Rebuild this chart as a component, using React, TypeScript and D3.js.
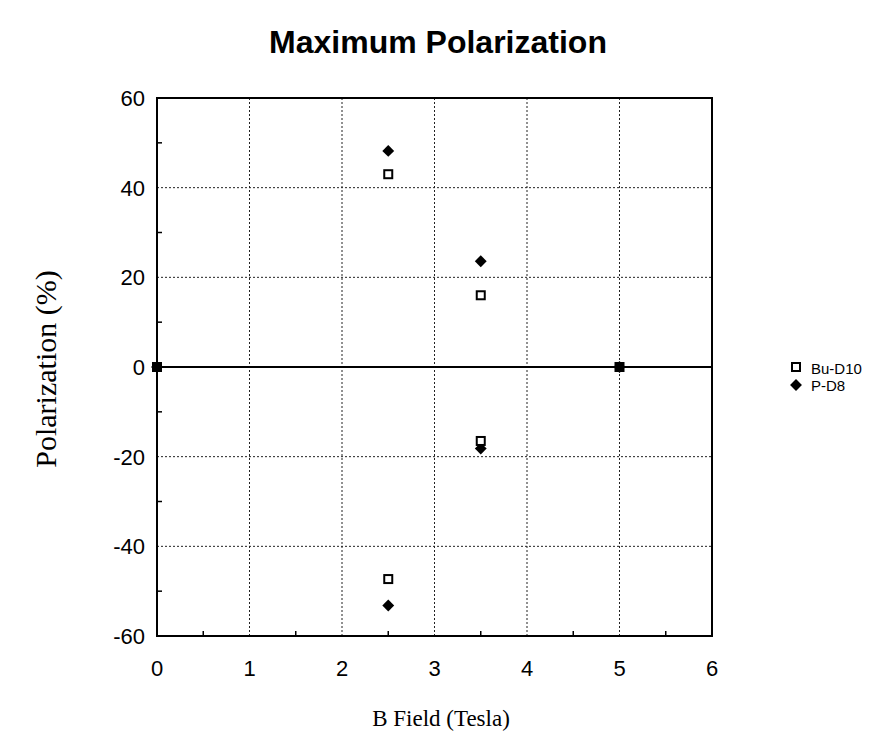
import React from "react";
import * as d3 from "d3";

// B field (Tesla) and maximum polarization (%)
const buField = [0, 2.5, 3.5, 3.5, 2.5, 5];
const buPol = [0, 43, 16, -16.5, -47.3, 0];
const pField = [0, 2.5, 3.5, 3.5, 2.5, 5];
const pPol = [0, 48.2, 23.6, -18.2, -53.2, 0];
const xTicks = [0, 1, 2, 3, 4, 5, 6];
const yTicks = [-60, -40, -20, 0, 20, 40, 60];

const W = 886;
const H = 749;
const margin = { left: 157, right: 174, top: 98, bottom: 113 };

export default function App() {
  const x = d3.scaleLinear().domain([0, 6]).range([margin.left, W - margin.right]);
  const y = d3.scaleLinear().domain([-60, 60]).range([H - margin.bottom, margin.top]);
  const minorX = d3.range(0.5, 6, 1);
  const minorY = d3.range(-50, 60, 20);
  const diamond = d3.symbol().type(d3.symbolDiamond2).size(90)();
  const sans = "Liberation Sans, Arial, sans-serif";
  const serif = "Liberation Serif, Times New Roman, serif";

  return (
    <svg width={W} height={H} style={{ position: "absolute", left: 0, top: 0 }}>
      <rect width={W} height={H} fill="#fff" />
      <text x={438} y={53} textAnchor="middle" fontFamily={sans} fontWeight="bold" fontSize={32}>
        Maximum Polarization
      </text>

      {/* grid */}
      {xTicks.slice(1, -1).map((t) => (
        <line key={"gx" + t} x1={x(t)} x2={x(t)} y1={y(60)} y2={y(-60)} stroke="#222" strokeWidth={1} strokeDasharray="2,2" />
      ))}
      {yTicks.filter((t) => t !== 0 && Math.abs(t) !== 60).map((t) => (
        <line key={"gy" + t} x1={x(0)} x2={x(6)} y1={y(t)} y2={y(t)} stroke="#222" strokeWidth={1} strokeDasharray="2,2" />
      ))}
      <line x1={x(0)} x2={x(6)} y1={y(0)} y2={y(0)} stroke="#000" strokeWidth={2} />

      {/* minor ticks */}
      {minorX.map((t) => (
        <line key={"mx" + t} x1={x(t)} x2={x(t)} y1={y(-60)} y2={y(-60) - 5} stroke="#000" strokeWidth={1.5} />
      ))}
      {minorY.map((t) => (
        <line key={"my" + t} x1={x(0)} x2={x(0) + 5} y1={y(t)} y2={y(t)} stroke="#000" strokeWidth={1.5} />
      ))}

      {/* frame */}
      <rect x={x(0)} y={y(60)} width={x(6) - x(0)} height={y(-60) - y(60)} fill="none" stroke="#000" strokeWidth={2} />

      {/* tick labels */}
      {yTicks.map((t) => (
        <text key={"ty" + t} x={x(0) - 12} y={y(t) + 8} textAnchor="end" fontFamily={sans} fontSize={22}>
          {t}
        </text>
      ))}
      {xTicks.map((t) => (
        <text key={"tx" + t} x={x(t)} y={y(-60) + 40} textAnchor="middle" fontFamily={sans} fontSize={22}>
          {t}
        </text>
      ))}

      {/* axis titles */}
      <text
        transform={`translate(56,${y(0) + 2}) rotate(-90)`}
        textAnchor="middle"
        fontFamily={serif}
        fontSize={30}
      >
        Polarization (%)
      </text>
      <text x={441} y={726} textAnchor="middle" fontFamily={serif} fontSize={23}>
        B Field (Tesla)
      </text>

      {/* P-D8 diamonds */}
      {pField.map((b, i) => (
        <path key={"p" + i} d={diamond!} transform={`translate(${x(b)},${y(pPol[i])})`} fill="#000" />
      ))}
      {/* Bu-D10 open squares */}
      {buField.map((b, i) =>
        buPol[i] === 0 ? (
          <rect key={"b" + i} x={x(b) - 5} y={y(0) - 5} width={10} height={10} fill="#000" />
        ) : (
          <rect key={"b" + i} x={x(b) - 4} y={y(buPol[i]) - 4} width={8} height={8} fill="#fff" stroke="#000" strokeWidth={2} />
        )
      )}

      {/* legend */}
      <rect x={792} y={363} width={8} height={8} fill="#fff" stroke="#000" strokeWidth={2} />
      <text x={811} y={374} fontFamily={sans} fontSize={15}>Bu-D10</text>
      <path d={diamond!} transform="translate(796,385)" fill="#000" />
      <text x={811} y={391} fontFamily={sans} fontSize={15}>P-D8</text>
    </svg>
  );
}
